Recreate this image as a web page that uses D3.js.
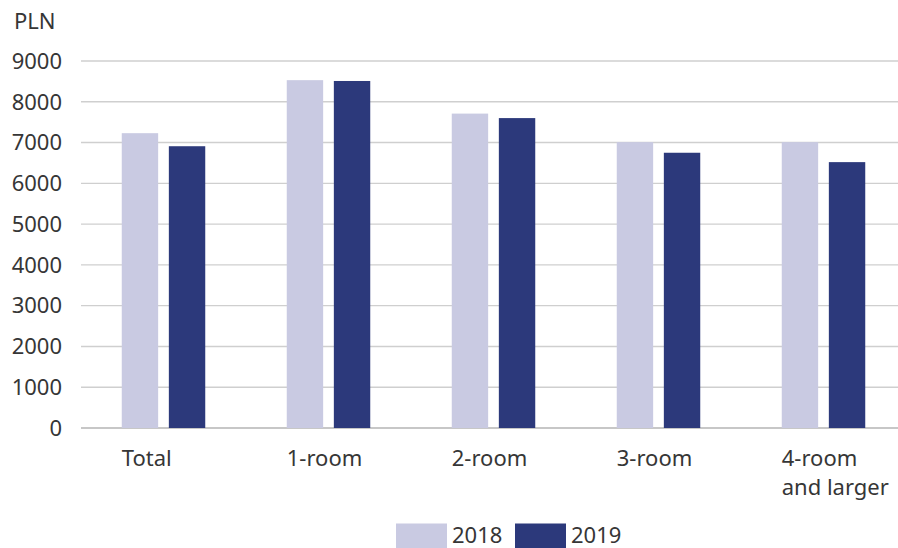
<!DOCTYPE html>
<html>
<head>
<meta charset="utf-8">
<script src="https://cdn.jsdelivr.net/npm/d3@7"></script>
<style>
  html, body { margin: 0; padding: 0; background: #fff; }
  svg { display: block; }
  text { font-family: "Noto Sans", "Open Sans", sans-serif; fill: #363636; }
</style>
</head>
<body>
<svg id="chart" width="898" height="548"></svg>
<script>
// Average price per m² of dwellings, by number of rooms
const categories = [["Total"], ["1-room"], ["2-room"], ["3-room"], ["4-room", "and larger"]];
const years = ["2018", "2019"];
const values2018 = [7230, 8530, 7710, 7010, 7010];
const values2019 = [6910, 8510, 7600, 6750, 6520];
const yTicks = [0, 1000, 2000, 3000, 4000, 5000, 6000, 7000, 8000, 9000];
const unitLabel = "PLN";

const colors = { "2018": "#c9cae2", "2019": "#2c397b" };
const W = 898, H = 548;
const FS = 22;
const svg = d3.select("#chart");

const catKeys = categories.map(c => c.join(" "));
const rows = catKeys.map((k, i) => ({ key: k, lines: categories[i], "2018": values2018[i], "2019": values2019[i] }));

const x0 = d3.scaleBand().domain(catKeys).range([81, 906]).paddingInner(0.494).paddingOuter(0.247);
const x1 = d3.scaleBand().domain(years).range([0, x0.bandwidth()]).paddingInner(0.227).paddingOuter(0);
const y = d3.scaleLinear().domain([0, 9000]).range([428, 61]);

// horizontal grid
svg.append("g").selectAll("line").data(yTicks).join("line")
  .attr("x1", 81).attr("x2", W)
  .attr("y1", d => y(d)).attr("y2", d => y(d))
  .attr("stroke", d => d === 0 ? "#b4b4b4" : "#cfcfcf")
  .attr("stroke-width", 1.4);

// y axis labels
const yAxis = d3.axisLeft(y).tickValues(yTicks).tickSize(0).tickPadding(0).tickFormat(d3.format("d"));
const gy = svg.append("g").attr("transform", "translate(62,0)").call(yAxis);
gy.select(".domain").remove();
gy.selectAll("text").attr("font-size", FS).attr("dy", "0.33em").attr("fill", "#363636")
  .style("font-family", '"Noto Sans", sans-serif');

svg.append("text").attr("x", 14).attr("y", 29).attr("font-size", FS).text(unitLabel);

// bars
const groups = svg.append("g").selectAll("g").data(rows).join("g")
  .attr("transform", d => `translate(${x0(d.key)},0)`);
groups.selectAll("rect").data(d => years.map(yr => ({ yr, v: d[yr] }))).join("rect")
  .attr("x", d => x1(d.yr))
  .attr("width", x1.bandwidth())
  .attr("y", d => y(d.v))
  .attr("height", d => y(0) - y(d.v))
  .attr("fill", d => colors[d.yr]);

// category labels
groups.append("text")
  .attr("y", 466)
  .attr("font-size", FS)
  .selectAll("tspan").data(d => d.lines).join("tspan")
  .attr("x", 0)
  .attr("dy", (d, i) => i === 0 ? 0 : 29)
  .text(d => d);

// legend
const legend = svg.append("g");
const legendX = [396, 515];
years.forEach((yr, i) => {
  legend.append("rect").attr("x", legendX[i]).attr("y", 523.5).attr("width", 51).attr("height", 27).attr("fill", colors[yr]);
  legend.append("text").attr("x", legendX[i] + 56).attr("y", 542.5).attr("font-size", FS).text(yr);
});
</script>
</body>
</html>
